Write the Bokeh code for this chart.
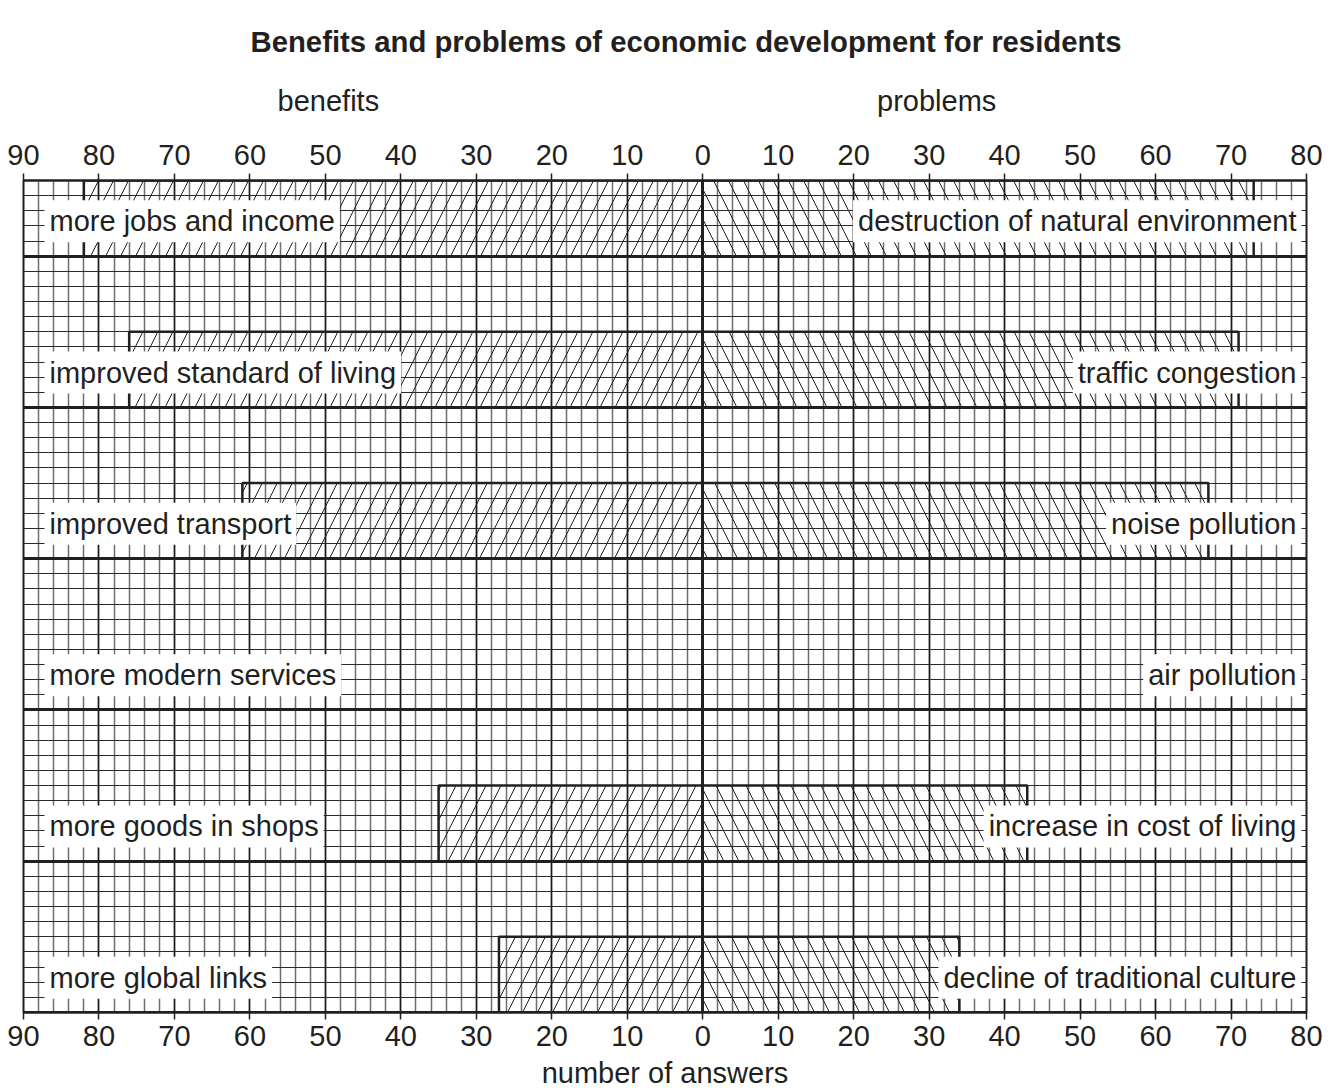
from bokeh.plotting import figure
from bokeh.models import (Range1d, LinearAxis, FixedTicker, SingleIntervalTicker,
                          ColumnDataSource, Title)
from bokeh.core.properties import value
from bokeh.embed import file_html
from bokeh.resources import INLINE

# ---------------- data ----------------
benefit_labels = ["more jobs and income", "improved standard of living", "improved transport",
                  "more modern services", "more goods in shops", "more global links"]
benefit_values = [82, 76, 61, 0, 35, 27]
problem_labels = ["destruction of natural environment", "traffic congestion", "noise pollution",
                  "air pollution", "increase in cost of living", "decline of traditional culture"]
problem_values = [73, 71, 67, 0, 43, 34]
tick_values = [-90, -80, -70, -60, -50, -40, -30, -20, -10, 0, 10, 20, 30, 40, 50, 60, 70, 80]
tick_labels = ["90", "80", "70", "60", "50", "40", "30", "20", "10", "0",
               "10", "20", "30", "40", "50", "60", "70", "80"]
side_positions = [-49.6, 31]
side_labels = ["benefits", "problems"]
title_text = "Benefits and problems of economic development for residents"
x_title = "number of answers"

FONT = "Liberation Sans"
INK = "#231f20"
FS = "29px"

n = len(benefit_labels)
band = 10          # rows per category band
bar_h = 5          # rows per bar
y_top = n * band - bar_h  # 55
centers = [y_top - band * i - bar_h / 2 for i in range(n)]
bottoms = [c - bar_h / 2 for c in centers]

src = ColumnDataSource(dict(
    y=centers,
    bl=[-v for v in benefit_values],
    pr=problem_values,
    blab=benefit_labels,
    plab=problem_labels,
    xl=[-90] * n,
    xr=[80] * n,
))

p = figure(width=1333, height=1091, output_backend="svg", toolbar_location=None,
           x_range=Range1d(-90, 80), y_range=Range1d(0, y_top),
           x_axis_location=None, y_axis_location=None,
           min_border_left=23, min_border_right=27, min_border_top=180, min_border_bottom=79)
p.background_fill_color = "white"
p.border_fill_color = "white"
p.outline_line_color = INK
p.outline_line_width = 2

# grid
p.xgrid.ticker = SingleIntervalTicker(interval=10, num_minor_ticks=5)
p.xgrid.grid_line_color = "#1a1a1a"
p.xgrid.grid_line_width = 1.5
p.xgrid.minor_grid_line_color = "#6e6e6e"
p.xgrid.minor_grid_line_width = 1.5
p.ygrid.ticker = SingleIntervalTicker(interval=1)
p.ygrid.grid_line_color = "#2a2a2a"
p.ygrid.grid_line_width = 1.2

# thick lines at bar bottoms and zero line
p.hspan(y=bottoms, line_color=INK, line_width=3)
p.vspan(x=[0], line_color=INK, line_width=3)

# bars
p.hbar(y="y", left="bl", right=0, height=bar_h, source=src, fill_color=None,
       line_color=INK, line_width=2.5, hatch_pattern="/", hatch_color=INK,
       hatch_weight=1, hatch_scale=30)
p.hbar(y="y", left=0, right="pr", height=bar_h, source=src, fill_color=None,
       line_color=INK, line_width=2.5, hatch_pattern="\\", hatch_color=INK,
       hatch_weight=1, hatch_scale=30)

# labels
p.text(x="xl", y="y", text="blab", source=src, text_font=value(FONT), text_font_size=FS,
       text_color=INK, text_align="left", text_baseline="middle", x_offset=21, y_offset=3,
       background_fill_color="white", padding=5)
p.text(x="xr", y="y", text="plab", source=src, text_font=value(FONT), text_font_size=FS,
       text_color=INK, text_align="right", text_baseline="middle", x_offset=-5, y_offset=3,
       background_fill_color="white", padding=5)

# axes
overrides = {t: l for t, l in zip(tick_values, tick_labels)}

def num_axis(standoff):
    ax = LinearAxis(ticker=FixedTicker(ticks=tick_values), major_label_overrides=overrides)
    ax.axis_line_color = INK
    ax.axis_line_width = 2
    ax.major_tick_line_color = INK
    ax.major_tick_line_width = 1.5
    ax.major_tick_out = 7
    ax.major_tick_in = 0
    ax.minor_tick_out = 0
    ax.minor_tick_in = 0
    ax.major_label_standoff = standoff
    ax.major_label_text_font = FONT
    ax.major_label_text_font_size = FS
    ax.major_label_text_color = INK
    return ax

top_ax = num_axis(9)
p.add_layout(top_ax, "above")

side_ax = LinearAxis(ticker=FixedTicker(ticks=side_positions),
                     major_label_overrides={t: l for t, l in zip(side_positions, side_labels)})
side_ax.axis_line_color = None
side_ax.major_tick_line_color = None
side_ax.minor_tick_line_color = None
side_ax.major_label_standoff = 19
side_ax.major_label_text_font = FONT
side_ax.major_label_text_font_size = FS
side_ax.major_label_text_color = INK
p.add_layout(side_ax, "above")

bot_ax = num_axis(6)
bot_ax.axis_label = x_title
bot_ax.axis_label_text_font = FONT
bot_ax.axis_label_text_font_size = FS
bot_ax.axis_label_text_font_style = "normal"
bot_ax.axis_label_text_color = INK
bot_ax.axis_label_standoff = 8
p.add_layout(bot_ax, "below")

p.title = Title(text=title_text, align="left", offset=227, vertical_align="top",
                standoff=43, text_font=FONT, text_font_size="29.3px",
                text_font_style="bold", text_color=INK)

open("out.html", "w").write(file_html(p, INLINE))
